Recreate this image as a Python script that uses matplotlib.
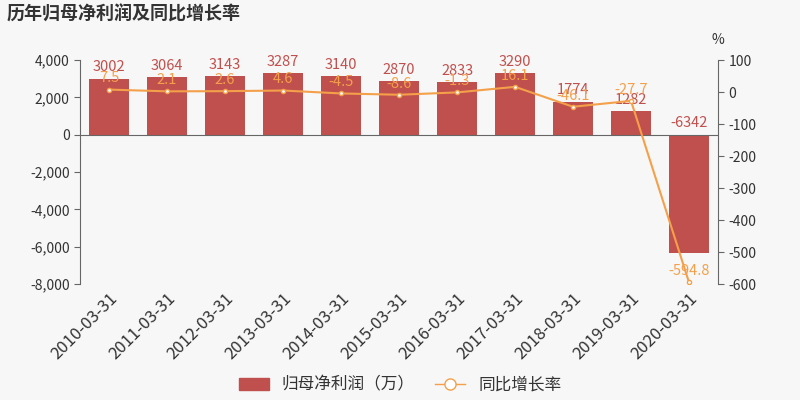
import matplotlib
matplotlib.use("Agg")
import matplotlib.pyplot as plt
from matplotlib.lines import Line2D
from matplotlib.patches import Patch

plt.rcParams['font.family'] = ['Noto Sans CJK SC', 'DejaVu Sans']

dates = ["2010-03-31","2011-03-31","2012-03-31","2013-03-31","2014-03-31","2015-03-31",
         "2016-03-31","2017-03-31","2018-03-31","2019-03-31","2020-03-31"]
profit = [3002, 3064, 3143, 3287, 3140, 2870, 2833, 3290, 1774, 1282, -6342]
growth = [7.5, 2.1, 2.6, 4.6, -4.5, -8.6, -1.3, 16.1, -46.1, -27.7, -594.8]

bg = "#f7f7f7"
bar_c = "#c0504d"
line_c = "#f4a04a"
grey = "#555555"

fig = plt.figure(figsize=(8, 4), dpi=100, facecolor=bg)
ax = fig.add_axes([0.1, 0.29, 0.7975, 0.56], facecolor=bg)
ax2 = ax.twinx()

x = list(range(len(dates)))
ax.bar(x, profit, width=0.7, color=bar_c, zorder=2)
ax.set_ylim(-8000, 4000)
ax.set_yticks(range(-8000, 4001, 2000))
ax.set_yticklabels([f"{v:,}" for v in range(-8000, 4001, 2000)], fontsize=10, color="#333333")
ax.set_xlim(-0.5, len(dates) - 0.5)
ax.set_xticks(x)
ax.set_xticklabels(dates, rotation=45, ha="right", rotation_mode="anchor", fontsize=12, color="#333333")
ax.axhline(0, color="#666666", lw=0.8, zorder=3)
for s in ["top", "right", "bottom"]:
    ax.spines[s].set_visible(False)
ax.spines["left"].set_color("#666666")
ax.tick_params(axis="x", length=0, pad=4)
ax.tick_params(axis="y", length=4, color="#666666")
for xi, v in zip(x, profit):
    ax.annotate(str(v), (xi, max(v, 0)), xytext=(0, 3), textcoords="offset points",
                ha="center", va="bottom", fontsize=10.5, color=bar_c, zorder=5)

ax2.plot(x, growth, color=line_c, lw=1.5, marker="o", ms=3, mfc="white", mec=line_c, zorder=4)
ax2.set_ylim(-600, 100)
ax2.set_yticks(range(-600, 101, 100))
ax2.set_yticklabels([str(v) for v in range(-600, 101, 100)], fontsize=10, color="#333333")
for s in ["top", "left", "bottom"]:
    ax2.spines[s].set_visible(False)
ax2.spines["right"].set_color("#666666")
ax2.tick_params(axis="y", length=4, color="#666666")
for xi, g in zip(x, growth):
    ax2.annotate(f"{g}", (xi, g), xytext=(0, 3), textcoords="offset points",
                 ha="center", va="bottom", fontsize=10.5, color=line_c, zorder=6)
ax2.text(1.0, 1.06, "%", transform=ax2.transAxes, ha="center", va="bottom", fontsize=10, color="#333333")

fig.text(0.008, 0.965, "历年归母净利润及同比增长率", fontsize=13, fontweight="bold", color="#333333", va="center")

handles = [Patch(color=bar_c),
           Line2D([], [], color=line_c, marker="o", ms=8, mfc="white", mec=line_c, lw=1)]
fig.legend(handles, ["归母净利润（万）", "同比增长率"], loc="center", bbox_to_anchor=(0.5, 0.037),
           ncol=2, frameon=False, fontsize=12, handlelength=1.8, columnspacing=1.2,
           labelcolor="#333333")

fig.savefig("out.png", dpi=100, facecolor=bg)
